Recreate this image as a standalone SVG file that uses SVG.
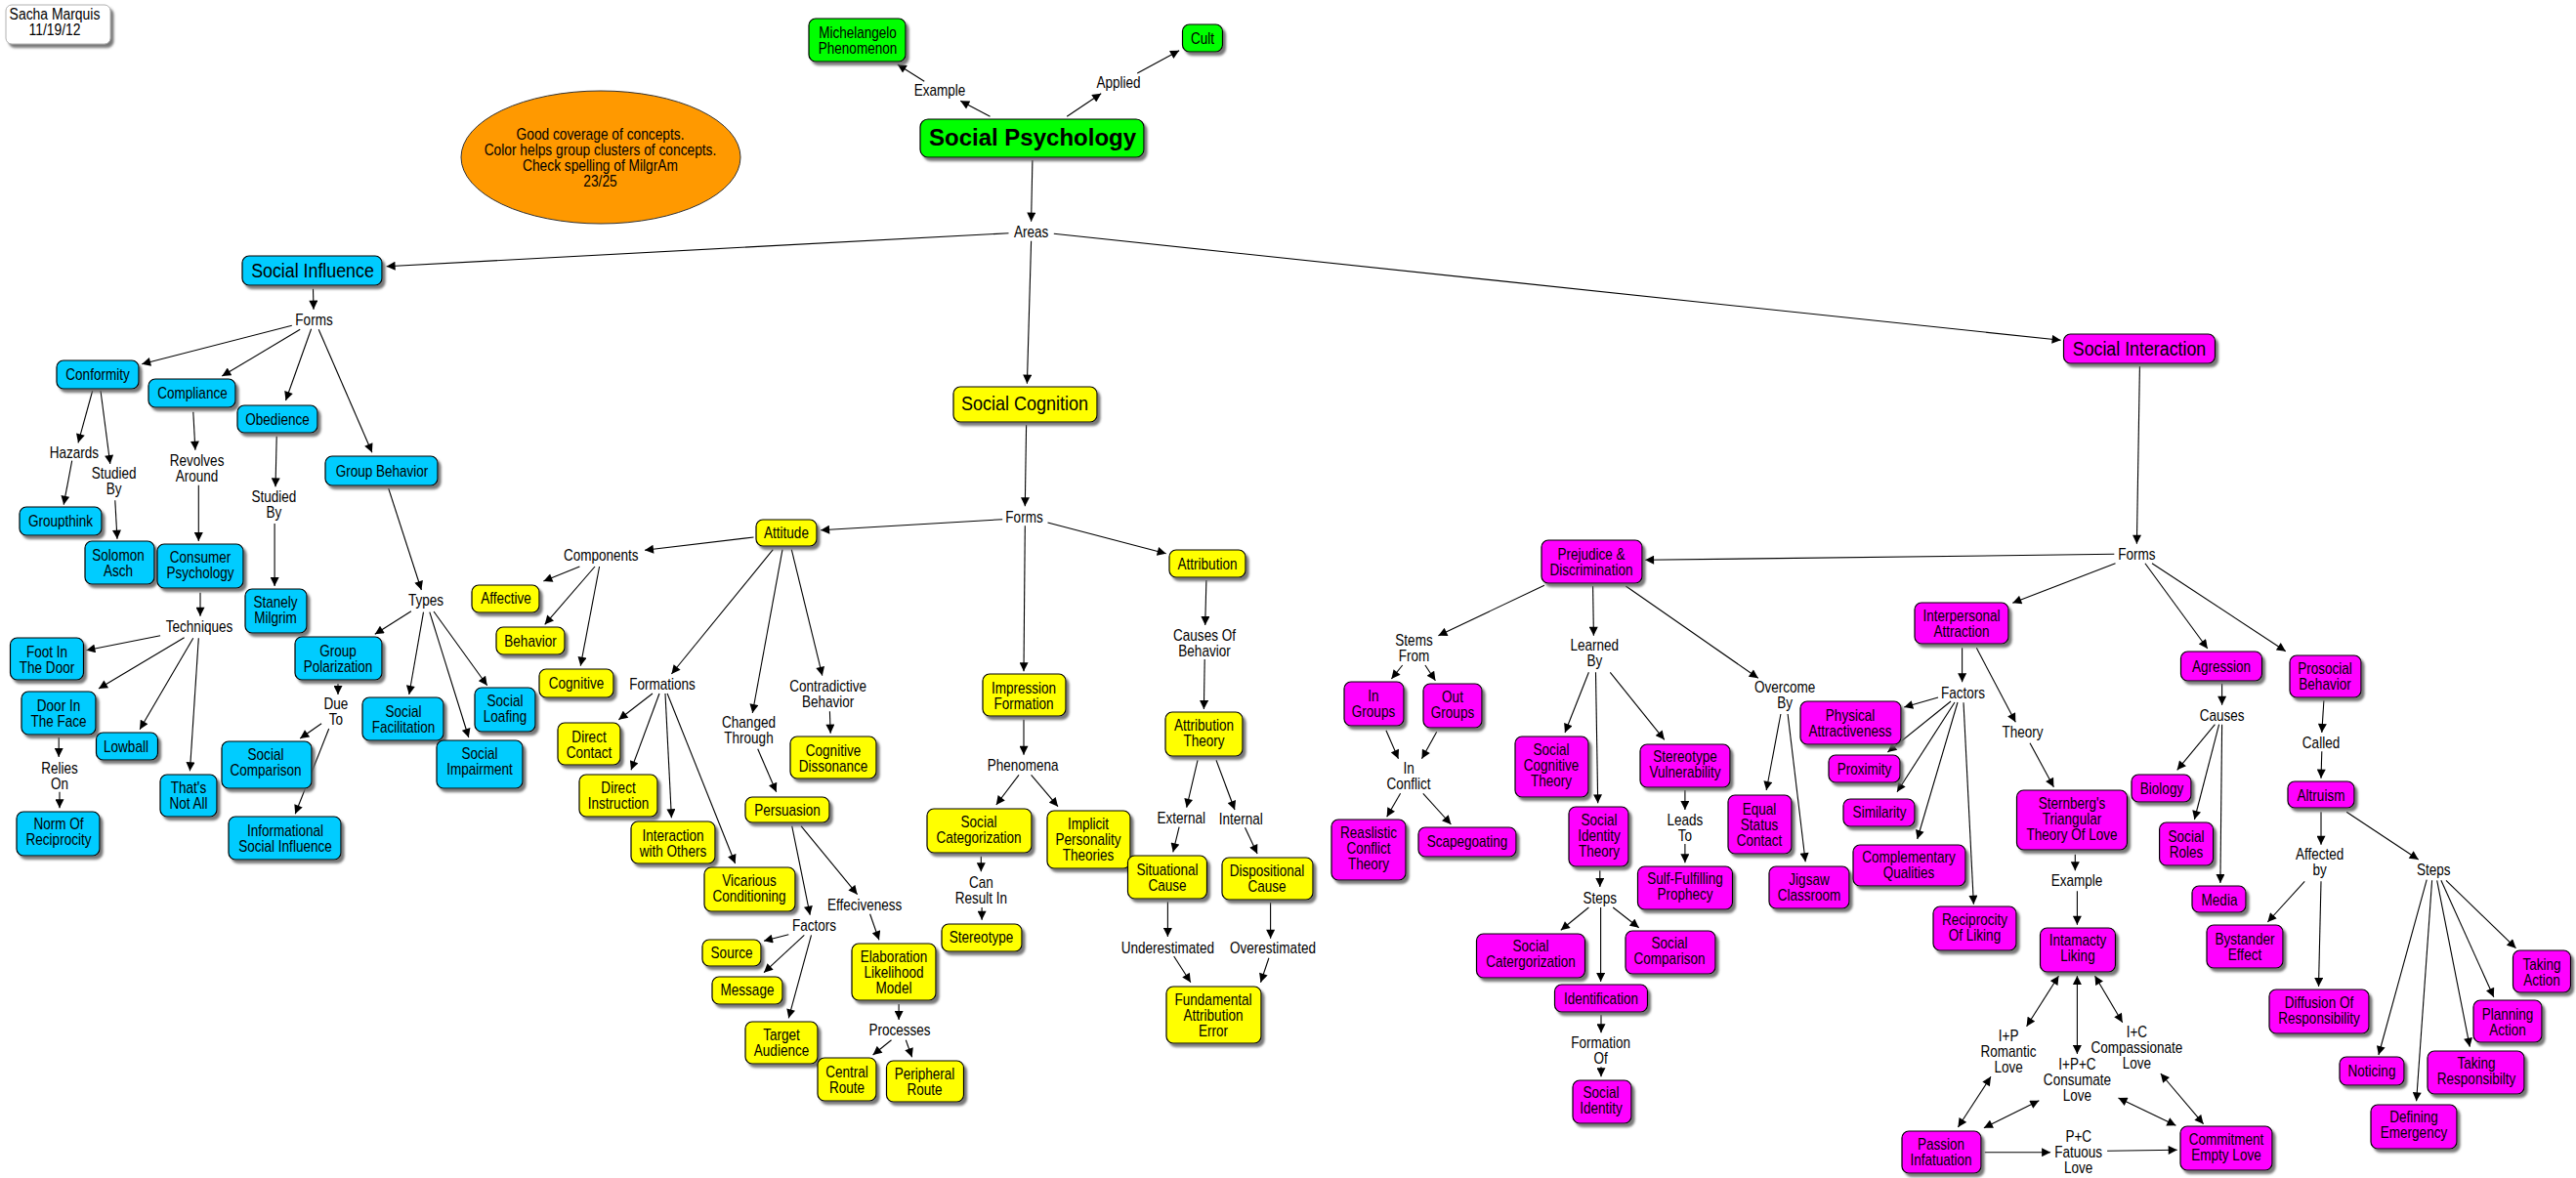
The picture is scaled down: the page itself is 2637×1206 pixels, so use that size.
<svg xmlns="http://www.w3.org/2000/svg" width="2637" height="1206" viewBox="0 0 2637 1206">
<defs>
<marker id="ah" viewBox="0 0 10 10" refX="10" refY="5" markerWidth="10" markerHeight="9" markerUnits="userSpaceOnUse" orient="auto-start-reverse"><path d="M0,0 L10,5 L0,10 z" fill="#000"/></marker>
<filter id="sh" x="-10%" y="-10%" width="130%" height="140%"><feDropShadow dx="3" dy="3.5" stdDeviation="0.8" flood-color="#6a6a6a" flood-opacity="0.9"/></filter>
<style>
text{font-family:"Liberation Sans",Arial,sans-serif;font-size:16px;fill:#000;text-anchor:middle}
.big{font-size:20px}
.title{font-size:24px;font-weight:bold}
.n rect{stroke:#000;stroke-width:1.2;filter:url(#sh)}
.b rect{fill:#00CCFF}
.y rect{fill:#FFFF00}
.g rect{fill:#00FF00}
.m rect{fill:#FF00FF}
#connectors line{stroke:#000;stroke-width:1.1;marker-end:url(#ah)}
#connectors line.d{marker-start:url(#ah)}
</style>
</defs>
<rect width="2637" height="1206" fill="#fff"/>

<g id="author-note"><rect x="6" y="5" width="107" height="40" rx="6" fill="#fff" stroke="#b0b0b0" stroke-width="1" filter="url(#sh)"/><text transform="translate(56 22.8) scale(.87 1)"><tspan x="0" y="-2.8">Sacha Marquis</tspan><tspan x="0" y="13">11/19/12</tspan></text></g>

<g id="grade-note"><ellipse cx="615" cy="161" rx="143" ry="68" fill="#FF9900" stroke="#333" stroke-width="1"/><text transform="translate(614.5 161.8) scale(.86 1)"><tspan x="0" y="-19">Good coverage of concepts.</tspan><tspan x="0" y="-3">Color helps group clusters of concepts.</tspan><tspan x="0" y="13">Check spelling of MilgrAm</tspan><tspan x="0" y="29">23/25</tspan></text></g>

<g id="connectors">
<line x1="1013.5" y1="119.3" x2="983.2" y2="103.3"/>
<line x1="946.2" y1="83.3" x2="918.8" y2="66"/>
<line x1="1092.2" y1="119.3" x2="1127.2" y2="95.7"/>
<line x1="1164.2" y1="75" x2="1207.1" y2="51.7"/>
<line x1="1056.9" y1="164" x2="1055.6" y2="226.7"/>
<line x1="1032.5" y1="238.7" x2="395.6" y2="272.7"/>
<line x1="1055.6" y1="246.7" x2="1051.4" y2="392.7"/>
<line x1="1078.8" y1="239.3" x2="2109.6" y2="348.3"/>
<line x1="320.5" y1="295.7" x2="321" y2="316.7"/>
<line x1="298.8" y1="333.3" x2="145.2" y2="372.7"/>
<line x1="307.2" y1="337.3" x2="227.3" y2="385"/>
<line x1="318.6" y1="336.7" x2="292.5" y2="410"/>
<line x1="326.2" y1="337.3" x2="380.9" y2="463.3"/>
<line x1="94.7" y1="400" x2="80" y2="453.3"/>
<line x1="73.7" y1="471.7" x2="65.2" y2="516.7"/>
<line x1="103" y1="400" x2="112.8" y2="475"/>
<line x1="117.8" y1="512.3" x2="120" y2="551.7"/>
<line x1="197.8" y1="421.7" x2="199.9" y2="460.7"/>
<line x1="203.3" y1="496.7" x2="203.3" y2="554"/>
<line x1="205" y1="606.7" x2="205" y2="630.7"/>
<line x1="164.1" y1="650.7" x2="88.4" y2="665.7"/>
<line x1="188.6" y1="652.7" x2="101" y2="705"/>
<line x1="197.8" y1="653.3" x2="143.1" y2="746.7"/>
<line x1="203.3" y1="653.3" x2="194.4" y2="789.3"/>
<line x1="60.2" y1="755" x2="60.2" y2="775"/>
<line x1="61" y1="810.7" x2="61" y2="827.3"/>
<line x1="283.2" y1="446.7" x2="282" y2="498.3"/>
<line x1="281.1" y1="536" x2="281.1" y2="600"/>
<line x1="397.7" y1="500" x2="431.4" y2="604"/>
<line x1="420.9" y1="625.7" x2="383.8" y2="649.3"/>
<line x1="433.5" y1="626.7" x2="418.8" y2="711"/>
<line x1="439.8" y1="626.7" x2="479.8" y2="755"/>
<line x1="444" y1="626" x2="498.7" y2="701.7"/>
<line x1="346" y1="700" x2="346" y2="711"/>
<line x1="329.1" y1="740.7" x2="307.2" y2="756"/>
<line x1="336.7" y1="746" x2="302.2" y2="833.3"/>
<line x1="1050.6" y1="435" x2="1049.3" y2="518.3"/>
<line x1="1026.2" y1="531.7" x2="840.1" y2="542.7"/>
<line x1="1072.5" y1="535" x2="1193.7" y2="566.7"/>
<line x1="1049.3" y1="538.3" x2="1048" y2="687.3"/>
<line x1="771.5" y1="550" x2="660" y2="563.3"/>
<line x1="593.4" y1="580" x2="556.4" y2="595"/>
<line x1="609" y1="580" x2="557.7" y2="639.3"/>
<line x1="613.6" y1="580" x2="594.3" y2="681.7"/>
<line x1="791.3" y1="562.7" x2="687.4" y2="690"/>
<line x1="801" y1="562.7" x2="770.3" y2="730"/>
<line x1="810.3" y1="562.7" x2="841.8" y2="691.7"/>
<line x1="668" y1="710" x2="633.4" y2="736.7"/>
<line x1="675" y1="710" x2="646" y2="788.3"/>
<line x1="681" y1="710" x2="687.4" y2="837.3"/>
<line x1="683.1" y1="710" x2="752.6" y2="884"/>
<line x1="775.7" y1="766.7" x2="794.7" y2="810.7"/>
<line x1="849.4" y1="728.3" x2="850.2" y2="750.7"/>
<line x1="810.7" y1="845.7" x2="829.2" y2="936.7"/>
<line x1="820" y1="845.7" x2="877.6" y2="915.7"/>
<line x1="890.6" y1="935.7" x2="899.9" y2="962.3"/>
<line x1="807.3" y1="956.7" x2="782" y2="963.3"/>
<line x1="823.3" y1="957.3" x2="782" y2="995.7"/>
<line x1="830.5" y1="957.3" x2="807.3" y2="1042.3"/>
<line x1="920.1" y1="1028" x2="920.1" y2="1044"/>
<line x1="912.5" y1="1064.7" x2="893.6" y2="1080"/>
<line x1="927.3" y1="1064.7" x2="933.6" y2="1082.3"/>
<line x1="1048" y1="736.7" x2="1048" y2="772.7"/>
<line x1="1043" y1="793.3" x2="1019.8" y2="824"/>
<line x1="1055.6" y1="793.3" x2="1083" y2="825.7"/>
<line x1="1004.3" y1="876.7" x2="1004.3" y2="892.3"/>
<line x1="1005.1" y1="929" x2="1005.1" y2="941.7"/>
<line x1="1234.9" y1="594" x2="1233.7" y2="640"/>
<line x1="1233.2" y1="675" x2="1232.4" y2="726"/>
<line x1="1226" y1="778.3" x2="1214.7" y2="826.7"/>
<line x1="1245" y1="778.3" x2="1264" y2="829"/>
<line x1="1207.1" y1="846.7" x2="1200.8" y2="872.3"/>
<line x1="1274.5" y1="847.3" x2="1287.1" y2="874"/>
<line x1="1195.4" y1="923.3" x2="1195.4" y2="959"/>
<line x1="1300.6" y1="924" x2="1300.6" y2="960.7"/>
<line x1="1201.7" y1="979" x2="1218.9" y2="1005.7"/>
<line x1="1298.9" y1="980.7" x2="1290.5" y2="1005.7"/>
<line x1="2190.4" y1="375" x2="2187.4" y2="556.7"/>
<line x1="2164.3" y1="567.3" x2="1684.1" y2="573.3"/>
<line x1="2165.5" y1="576.7" x2="2060.3" y2="617.3"/>
<line x1="2195.9" y1="576.7" x2="2259.8" y2="664"/>
<line x1="2203" y1="576.7" x2="2339.8" y2="666.7"/>
<line x1="1580.9" y1="599.3" x2="1472.4" y2="650.7"/>
<line x1="1630.6" y1="600" x2="1631.4" y2="650.7"/>
<line x1="1664.3" y1="600" x2="1799.8" y2="694.3"/>
<line x1="1435.7" y1="681" x2="1424.4" y2="695"/>
<line x1="1458.9" y1="681" x2="1469.4" y2="696.7"/>
<line x1="1418.9" y1="747.7" x2="1431.5" y2="776.7"/>
<line x1="1470.7" y1="749.3" x2="1455.5" y2="776.7"/>
<line x1="1433.6" y1="812.3" x2="1419.7" y2="836.3"/>
<line x1="1456.8" y1="812.3" x2="1485.4" y2="844"/>
<line x1="1626.4" y1="688.3" x2="1602" y2="750"/>
<line x1="1633.5" y1="688.3" x2="1635.7" y2="822.3"/>
<line x1="1648.3" y1="688.3" x2="1703.8" y2="757.3"/>
<line x1="1724.9" y1="809" x2="1724.9" y2="829"/>
<line x1="1724.9" y1="864" x2="1724.9" y2="883.3"/>
<line x1="1637.8" y1="891.3" x2="1637.8" y2="908"/>
<line x1="1626.4" y1="929" x2="1597.8" y2="952.3"/>
<line x1="1638.6" y1="929" x2="1638.6" y2="1005"/>
<line x1="1651.2" y1="929" x2="1677.7" y2="949.7"/>
<line x1="1639" y1="1039" x2="1639" y2="1057.3"/>
<line x1="1639" y1="1092.3" x2="1639" y2="1102.3"/>
<line x1="1822.9" y1="731" x2="1808.2" y2="809"/>
<line x1="1830.1" y1="731" x2="1848.2" y2="882.3"/>
<line x1="2008.6" y1="663.3" x2="2008.6" y2="698.3"/>
<line x1="1984" y1="714" x2="1949.2" y2="724"/>
<line x1="1997" y1="718" x2="1932.4" y2="770"/>
<line x1="2001" y1="719" x2="1942" y2="810.7"/>
<line x1="2004" y1="719" x2="1962.7" y2="859"/>
<line x1="2010" y1="719.3" x2="2020.4" y2="925.7"/>
<line x1="2023.3" y1="663.3" x2="2063.3" y2="739.3"/>
<line x1="2078" y1="760.7" x2="2102.4" y2="805.7"/>
<line x1="2124.3" y1="874.7" x2="2124.3" y2="891.3"/>
<line x1="2126.4" y1="912.3" x2="2126.4" y2="946.7"/>
<line class="d" x1="2107.5" y1="999" x2="2074.6" y2="1050.7"/>
<line class="d" x1="2126.4" y1="999" x2="2126.4" y2="1079"/>
<line class="d" x1="2144.5" y1="999" x2="2172.7" y2="1046.7"/>
<line class="d" x1="2038" y1="1102.3" x2="2004.4" y2="1154"/>
<line class="d" x1="2087.3" y1="1126.7" x2="2030.9" y2="1154.7"/>
<line class="d" x1="2168.5" y1="1124" x2="2227.4" y2="1152.3"/>
<line class="d" x1="2211.8" y1="1099" x2="2255.6" y2="1150.7"/>
<line x1="2031.7" y1="1179.7" x2="2099.1" y2="1179.7"/>
<line x1="2157.1" y1="1178.3" x2="2228.7" y2="1177.3"/>
<line x1="2274.6" y1="700" x2="2274.6" y2="721.7"/>
<line x1="2267.4" y1="741.7" x2="2228.7" y2="788.3"/>
<line x1="2271.6" y1="741.7" x2="2246.4" y2="839"/>
<line x1="2274.6" y1="741.7" x2="2272.9" y2="904"/>
<line x1="2378.9" y1="717.3" x2="2376.8" y2="750"/>
<line x1="2376.8" y1="769.3" x2="2376" y2="796.7"/>
<line x1="2376" y1="831.3" x2="2376" y2="864.7"/>
<line x1="2359.2" y1="902.3" x2="2321.3" y2="944"/>
<line x1="2376" y1="902.3" x2="2373.5" y2="1010"/>
<line x1="2402.1" y1="831.3" x2="2475.7" y2="880"/>
<line x1="2484.2" y1="900.7" x2="2434.9" y2="1080"/>
<line x1="2489.6" y1="901.3" x2="2473.6" y2="1127.3"/>
<line x1="2494.7" y1="901.3" x2="2528.3" y2="1071.7"/>
<line x1="2498.9" y1="901.3" x2="2552.8" y2="1020.7"/>
<line x1="2504" y1="901.3" x2="2575.5" y2="970.7"/>
</g>

<g id="linking-phrases">
<text transform="translate(962 92.3) scale(.845 1)" y="5.5">Example</text>
<text transform="translate(1145 84.3) scale(.845 1)" y="5.5">Applied</text>
<text transform="translate(1055.6 237.3) scale(.845 1)" y="5.5">Areas</text>
<text transform="translate(321.5 327.3) scale(.845 1)" y="5.5">Forms</text>
<text transform="translate(75.8 463.3) scale(.845 1)" y="5.5">Hazards</text>
<text transform="translate(116.6 492.2) scale(.845 1)"><tspan x="0" y="-2.5">Studied</tspan><tspan x="0" y="13.5">By</tspan></text>
<text transform="translate(201.6 479.5) scale(.845 1)"><tspan x="0" y="-2.5">Revolves</tspan><tspan x="0" y="13.5">Around</tspan></text>
<text transform="translate(280.3 516.7) scale(.845 1)"><tspan x="0" y="-2.5">Studied</tspan><tspan x="0" y="13.5">By</tspan></text>
<text transform="translate(204 641) scale(.845 1)" y="5.5">Techniques</text>
<text transform="translate(61 794) scale(.845 1)"><tspan x="0" y="-2.5">Relies</tspan><tspan x="0" y="13.5">On</tspan></text>
<text transform="translate(436 614.3) scale(.845 1)" y="5.5">Types</text>
<text transform="translate(344 728.7) scale(.845 1)"><tspan x="0" y="-2.5">Due</tspan><tspan x="0" y="13.5">To</tspan></text>
<text transform="translate(615.3 568.7) scale(.845 1)" y="5.5">Components</text>
<text transform="translate(678 700) scale(.845 1)" y="5.5">Formations</text>
<text transform="translate(1048.5 529.3) scale(.845 1)" y="5.5">Forms</text>
<text transform="translate(766.5 747.3) scale(.845 1)"><tspan x="0" y="-2.5">Changed</tspan><tspan x="0" y="13.5">Through</tspan></text>
<text transform="translate(847.7 710.3) scale(.845 1)"><tspan x="0" y="-2.5">Contradictive</tspan><tspan x="0" y="13.5">Behavior</tspan></text>
<text transform="translate(1233 658) scale(.845 1)"><tspan x="0" y="-2.5">Causes Of</tspan><tspan x="0" y="13.5">Behavior</tspan></text>
<text transform="translate(1047.2 783.3) scale(.845 1)" y="5.5">Phenomena</text>
<text transform="translate(833.4 947.3) scale(.845 1)" y="5.5">Factors</text>
<text transform="translate(885.2 926.7) scale(.845 1)" y="5.5">Effeciveness</text>
<text transform="translate(921 1054.7) scale(.845 1)" y="5.5">Processes</text>
<text transform="translate(1004.3 911.5) scale(.845 1)"><tspan x="0" y="-2.5">Can</tspan><tspan x="0" y="13.5">Result In</tspan></text>
<text transform="translate(1209.2 837.3) scale(.845 1)" y="5.5">External</text>
<text transform="translate(1270.3 838.3) scale(.845 1)" y="5.5">Internal</text>
<text transform="translate(1195.4 970) scale(.845 1)" y="5.5">Underestimated</text>
<text transform="translate(1303 970.7) scale(.845 1)" y="5.5">Overestimated</text>
<text transform="translate(2187.4 567.3) scale(.845 1)" y="5.5">Forms</text>
<text transform="translate(1447.5 663.7) scale(.845 1)"><tspan x="0" y="-2.5">Stems</tspan><tspan x="0" y="13.5">From</tspan></text>
<text transform="translate(1632.3 668.5) scale(.845 1)"><tspan x="0" y="-2.5">Learned</tspan><tspan x="0" y="13.5">By</tspan></text>
<text transform="translate(1827.2 711.7) scale(.845 1)"><tspan x="0" y="-2.5">Overcome</tspan><tspan x="0" y="13.5">By</tspan></text>
<text transform="translate(1442.1 794.7) scale(.845 1)"><tspan x="0" y="-2.5">In</tspan><tspan x="0" y="13.5">Conflict</tspan></text>
<text transform="translate(1637.8 919) scale(.845 1)" y="5.5">Steps</text>
<text transform="translate(1724.9 847) scale(.845 1)"><tspan x="0" y="-2.5">Leads</tspan><tspan x="0" y="13.5">To</tspan></text>
<text transform="translate(1638.6 1075.3) scale(.845 1)"><tspan x="0" y="-2.5">Formation</tspan><tspan x="0" y="13.5">Of</tspan></text>
<text transform="translate(2009.4 709.3) scale(.845 1)" y="5.5">Factors</text>
<text transform="translate(2070.4 749.3) scale(.845 1)" y="5.5">Theory</text>
<text transform="translate(2274.6 732.7) scale(.845 1)" y="5.5">Causes</text>
<text transform="translate(2376 760.7) scale(.845 1)" y="5.5">Called</text>
<text transform="translate(2374.7 882.7) scale(.845 1)"><tspan x="0" y="-2.5">Affected</tspan><tspan x="0" y="13.5">by</tspan></text>
<text transform="translate(2491.3 890.7) scale(.845 1)" y="5.5">Steps</text>
<text transform="translate(2126 901.3) scale(.845 1)" y="5.5">Example</text>
<text transform="translate(2056.1 1076.5) scale(.845 1)"><tspan x="0" y="-10.5">I+P</tspan><tspan x="0" y="5.5">Romantic</tspan><tspan x="0" y="21.5">Love</tspan></text>
<text transform="translate(2126.4 1105.7) scale(.845 1)"><tspan x="0" y="-10.5">I+P+C</tspan><tspan x="0" y="5.5">Consumate</tspan><tspan x="0" y="21.5">Love</tspan></text>
<text transform="translate(2187.4 1072.5) scale(.845 1)"><tspan x="0" y="-10.5">I+C</tspan><tspan x="0" y="5.5">Compassionate</tspan><tspan x="0" y="21.5">Love</tspan></text>
<text transform="translate(2127.7 1179.6) scale(.845 1)"><tspan x="0" y="-10.5">P+C</tspan><tspan x="0" y="5.5">Fatuous</tspan><tspan x="0" y="21.5">Love</tspan></text>
</g>

<g id="social-psychology" class="n g"><rect x="942" y="122" width="229" height="39" rx="8"/><text class="title" transform="translate(1057 140)" y="8.5">Social Psychology</text></g>
<g id="michelangelo-phenomenon" class="n g"><rect x="828" y="19" width="99" height="44" rx="7"/><text transform="translate(878 41.3) scale(.845 1)"><tspan x="0" y="-2.5">Michelangelo</tspan><tspan x="0" y="13.5">Phenomenon</tspan></text></g>
<g id="cult" class="n g"><rect x="1210.5" y="25" width="41" height="28" rx="7"/><text transform="translate(1231 39.3) scale(.845 1)" y="5.5">Cult</text></g>

<g id="social-influence" class="n b"><rect x="248" y="262" width="143" height="30" rx="7"/><text class="big" transform="translate(320 277) scale(.89 1)" y="7">Social Influence</text></g>
<g id="conformity" class="n b"><rect x="58" y="369" width="84" height="29" rx="7"/><text transform="translate(100 383.5) scale(.845 1)" y="5.5">Conformity</text></g>
<g id="compliance" class="n b"><rect x="152" y="388" width="89" height="29" rx="7"/><text transform="translate(197 402.5) scale(.845 1)" y="5.5">Compliance</text></g>
<g id="obedience" class="n b"><rect x="243" y="415" width="82" height="28" rx="7"/><text transform="translate(284 429) scale(.845 1)" y="5.5">Obedience</text></g>
<g id="group-behavior" class="n b"><rect x="333" y="467" width="115" height="30" rx="7"/><text transform="translate(391 482) scale(.845 1)" y="5.5">Group Behavior</text></g>
<g id="groupthink" class="n b"><rect x="20" y="519" width="84" height="29" rx="7"/><text transform="translate(62 533.5) scale(.845 1)" y="5.5">Groupthink</text></g>
<g id="solomon-asch" class="n b"><rect x="87" y="554" width="71" height="44" rx="7"/><text transform="translate(121 576.3) scale(.845 1)"><tspan x="0" y="-2.5">Solomon</tspan><tspan x="0" y="13.5">Asch</tspan></text></g>
<g id="consumer-psychology" class="n b"><rect x="161" y="557" width="88" height="45" rx="7"/><text transform="translate(205 578.7) scale(.845 1)"><tspan x="0" y="-2.5">Consumer</tspan><tspan x="0" y="13.5">Psychology</tspan></text></g>
<g id="stanely-milgrim" class="n b"><rect x="251" y="603" width="63" height="45" rx="7"/><text transform="translate(282 624.7) scale(.845 1)"><tspan x="0" y="-2.5">Stanely</tspan><tspan x="0" y="13.5">Milgrim</tspan></text></g>
<g id="foot-in-the-door" class="n b"><rect x="10.5" y="653" width="75" height="43" rx="7"/><text transform="translate(48 675.3) scale(.845 1)"><tspan x="0" y="-2.5">Foot In</tspan><tspan x="0" y="13.5">The Door</tspan></text></g>
<g id="door-in-the-face" class="n b"><rect x="22" y="708" width="76" height="44" rx="7"/><text transform="translate(60 730.3) scale(.845 1)"><tspan x="0" y="-2.5">Door In</tspan><tspan x="0" y="13.5">The Face</tspan></text></g>
<g id="lowball" class="n b"><rect x="98.5" y="750" width="63" height="28" rx="7"/><text transform="translate(129 764) scale(.845 1)" y="5.5">Lowball</text></g>
<g id="thats-not-all" class="n b"><rect x="164" y="793" width="58" height="43" rx="7"/><text transform="translate(193 814) scale(.845 1)"><tspan x="0" y="-2.5">That's</tspan><tspan x="0" y="13.5">Not All</tspan></text></g>
<g id="norm-of-reciprocity" class="n b"><rect x="17" y="831" width="85" height="45" rx="7"/><text transform="translate(60 851.2) scale(.845 1)"><tspan x="0" y="-2.5">Norm Of</tspan><tspan x="0" y="13.5">Reciprocity</tspan></text></g>
<g id="group-polarization" class="n b"><rect x="302" y="652" width="89" height="44" rx="7"/><text transform="translate(346 674.7) scale(.845 1)"><tspan x="0" y="-2.5">Group</tspan><tspan x="0" y="13.5">Polarization</tspan></text></g>
<g id="social-comparison-influence" class="n b"><rect x="227" y="759" width="92" height="48" rx="7"/><text transform="translate(272 780.7) scale(.845 1)"><tspan x="0" y="-2.5">Social</tspan><tspan x="0" y="13.5">Comparison</tspan></text></g>
<g id="informational-social-influence" class="n b"><rect x="234" y="836" width="115" height="44" rx="7"/><text transform="translate(292 858.7) scale(.845 1)"><tspan x="0" y="-2.5">Informational</tspan><tspan x="0" y="13.5">Social Influence</tspan></text></g>
<g id="social-facilitation" class="n b"><rect x="371" y="714" width="83" height="44" rx="7"/><text transform="translate(413 736.3) scale(.845 1)"><tspan x="0" y="-2.5">Social</tspan><tspan x="0" y="13.5">Facilitation</tspan></text></g>
<g id="social-loafing" class="n b"><rect x="486" y="704" width="62" height="45" rx="7"/><text transform="translate(517 725.3) scale(.845 1)"><tspan x="0" y="-2.5">Social</tspan><tspan x="0" y="13.5">Loafing</tspan></text></g>
<g id="social-impairment" class="n b"><rect x="447" y="758" width="88" height="49" rx="7"/><text transform="translate(491 779.7) scale(.845 1)"><tspan x="0" y="-2.5">Social</tspan><tspan x="0" y="13.5">Impairment</tspan></text></g>

<g id="social-cognition" class="n y"><rect x="976" y="396" width="147" height="36" rx="7"/><text class="big" transform="translate(1049 413) scale(.9 1)" y="7">Social Cognition</text></g>
<g id="attitude" class="n y"><rect x="774" y="532" width="62" height="27" rx="7"/><text transform="translate(805 545.5) scale(.845 1)" y="5.5">Attitude</text></g>
<g id="attribution" class="n y"><rect x="1197" y="563" width="78" height="28" rx="7"/><text transform="translate(1236 577) scale(.845 1)" y="5.5">Attribution</text></g>
<g id="impression-formation" class="n y"><rect x="1006" y="690" width="85" height="43" rx="7"/><text transform="translate(1048 712) scale(.845 1)"><tspan x="0" y="-2.5">Impression</tspan><tspan x="0" y="13.5">Formation</tspan></text></g>
<g id="affective" class="n y"><rect x="483" y="599" width="69" height="28" rx="7"/><text transform="translate(518 612.5) scale(.845 1)" y="5.5">Affective</text></g>
<g id="behavior" class="n y"><rect x="508" y="642" width="70" height="28" rx="7"/><text transform="translate(543 656) scale(.845 1)" y="5.5">Behavior</text></g>
<g id="cognitive" class="n y"><rect x="552" y="685" width="76" height="29" rx="7"/><text transform="translate(590 699.3) scale(.845 1)" y="5.5">Cognitive</text></g>
<g id="direct-contact" class="n y"><rect x="571" y="740" width="64" height="43" rx="7"/><text transform="translate(603 762) scale(.845 1)"><tspan x="0" y="-2.5">Direct</tspan><tspan x="0" y="13.5">Contact</tspan></text></g>
<g id="direct-instruction" class="n y"><rect x="593" y="793" width="80" height="43" rx="7"/><text transform="translate(633 814.8) scale(.845 1)"><tspan x="0" y="-2.5">Direct</tspan><tspan x="0" y="13.5">Instruction</tspan></text></g>
<g id="interaction-with-others" class="n y"><rect x="646" y="841" width="86" height="43" rx="7"/><text transform="translate(689 863.7) scale(.845 1)"><tspan x="0" y="-2.5">Interaction</tspan><tspan x="0" y="13.5">with Others</tspan></text></g>
<g id="vicarious-conditioning" class="n y"><rect x="721" y="888" width="93" height="45" rx="7"/><text transform="translate(767 909.3) scale(.845 1)"><tspan x="0" y="-2.5">Vicarious</tspan><tspan x="0" y="13.5">Conditioning</tspan></text></g>
<g id="cognitive-dissonance" class="n y"><rect x="809" y="754" width="88" height="43" rx="7"/><text transform="translate(853 776.3) scale(.845 1)"><tspan x="0" y="-2.5">Cognitive</tspan><tspan x="0" y="13.5">Dissonance</tspan></text></g>
<g id="persuasion" class="n y"><rect x="763" y="816" width="86" height="26" rx="7"/><text transform="translate(806 829.3) scale(.845 1)" y="5.5">Persuasion</text></g>
<g id="source" class="n y"><rect x="719" y="962" width="60" height="27" rx="7"/><text transform="translate(749 975.7) scale(.845 1)" y="5.5">Source</text></g>
<g id="message" class="n y"><rect x="729" y="1000" width="72" height="28" rx="7"/><text transform="translate(765 1013.3) scale(.845 1)" y="5.5">Message</text></g>
<g id="target-audience" class="n y"><rect x="763" y="1046" width="74" height="43" rx="7"/><text transform="translate(800 1067.7) scale(.845 1)"><tspan x="0" y="-2.5">Target</tspan><tspan x="0" y="13.5">Audience</tspan></text></g>
<g id="elaboration-likelihood-model" class="n y"><rect x="872" y="966" width="86" height="58" rx="7"/><text transform="translate(915 995.5) scale(.845 1)"><tspan x="0" y="-10.5">Elaboration</tspan><tspan x="0" y="5.5">Likelihood</tspan><tspan x="0" y="21.5">Model</tspan></text></g>
<g id="central-route" class="n y"><rect x="837" y="1083" width="60" height="44" rx="7"/><text transform="translate(867 1105.3) scale(.845 1)"><tspan x="0" y="-2.5">Central</tspan><tspan x="0" y="13.5">Route</tspan></text></g>
<g id="peripheral-route" class="n y"><rect x="907.5" y="1086" width="79" height="42" rx="7"/><text transform="translate(946.5 1107.7) scale(.845 1)"><tspan x="0" y="-2.5">Peripheral</tspan><tspan x="0" y="13.5">Route</tspan></text></g>
<g id="social-categorization" class="n y"><rect x="949" y="828" width="107" height="45" rx="7"/><text transform="translate(1002 849.7) scale(.845 1)"><tspan x="0" y="-2.5">Social</tspan><tspan x="0" y="13.5">Categorization</tspan></text></g>
<g id="stereotype" class="n y"><rect x="964" y="946" width="82" height="28" rx="7"/><text transform="translate(1004.5 959.7) scale(.845 1)" y="5.5">Stereotype</text></g>
<g id="implicit-personality-theories" class="n y"><rect x="1072" y="830" width="85" height="59" rx="7"/><text transform="translate(1114 859.3) scale(.845 1)"><tspan x="0" y="-10.5">Implicit</tspan><tspan x="0" y="5.5">Personality</tspan><tspan x="0" y="21.5">Theories</tspan></text></g>
<g id="attribution-theory" class="n y"><rect x="1193" y="729" width="79" height="45" rx="7"/><text transform="translate(1232.5 750.3) scale(.845 1)"><tspan x="0" y="-2.5">Attribution</tspan><tspan x="0" y="13.5">Theory</tspan></text></g>
<g id="situational-cause" class="n y"><rect x="1154.5" y="876" width="81" height="44" rx="7"/><text transform="translate(1195 898.7) scale(.845 1)"><tspan x="0" y="-2.5">Situational</tspan><tspan x="0" y="13.5">Cause</tspan></text></g>
<g id="dispositional-cause" class="n y"><rect x="1251" y="878" width="93" height="43" rx="7"/><text transform="translate(1297 899.3) scale(.845 1)"><tspan x="0" y="-2.5">Dispositional</tspan><tspan x="0" y="13.5">Cause</tspan></text></g>
<g id="fundamental-attribution-error" class="n y"><rect x="1194" y="1010" width="97" height="58" rx="7"/><text transform="translate(1242 1039.2) scale(.845 1)"><tspan x="0" y="-10.5">Fundamental</tspan><tspan x="0" y="5.5">Attribution</tspan><tspan x="0" y="21.5">Error</tspan></text></g>

<g id="social-interaction" class="n m"><rect x="2112.5" y="342" width="155" height="30" rx="7"/><text class="big" transform="translate(2190 357) scale(.89 1)" y="7">Social Interaction</text></g>
<g id="prejudice-discrimination" class="n m"><rect x="1578" y="553" width="103" height="44" rx="7"/><text transform="translate(1629 575.5) scale(.845 1)"><tspan x="0" y="-2.5">Prejudice &amp;</tspan><tspan x="0" y="13.5">Discrimination</tspan></text></g>
<g id="interpersonal-attraction" class="n m"><rect x="1960" y="617" width="96" height="42" rx="7"/><text transform="translate(2008 638.7) scale(.845 1)"><tspan x="0" y="-2.5">Interpersonal</tspan><tspan x="0" y="13.5">Attraction</tspan></text></g>
<g id="agression" class="n m"><rect x="2232.5" y="667" width="83" height="30" rx="7"/><text transform="translate(2274 682) scale(.845 1)" y="5.5">Agression</text></g>
<g id="prosocial-behavior" class="n m"><rect x="2344" y="671" width="73" height="43" rx="7"/><text transform="translate(2380 692) scale(.845 1)"><tspan x="0" y="-2.5">Prosocial</tspan><tspan x="0" y="13.5">Behavior</tspan></text></g>
<g id="in-groups" class="n m"><rect x="1376" y="698" width="61" height="45" rx="7"/><text transform="translate(1406 720.3) scale(.845 1)"><tspan x="0" y="-2.5">In</tspan><tspan x="0" y="13.5">Groups</tspan></text></g>
<g id="out-groups" class="n m"><rect x="1457" y="700" width="60" height="45" rx="7"/><text transform="translate(1487 721.7) scale(.845 1)"><tspan x="0" y="-2.5">Out</tspan><tspan x="0" y="13.5">Groups</tspan></text></g>
<g id="reaslistic-conflict-theory" class="n m"><rect x="1363" y="839" width="76" height="62" rx="7"/><text transform="translate(1401 868.3) scale(.845 1)"><tspan x="0" y="-10.5">Reaslistic</tspan><tspan x="0" y="5.5">Conflict</tspan><tspan x="0" y="21.5">Theory</tspan></text></g>
<g id="scapegoating" class="n m"><rect x="1452" y="847" width="100" height="30" rx="7"/><text transform="translate(1502 861) scale(.845 1)" y="5.5">Scapegoating</text></g>
<g id="social-cognitive-theory" class="n m"><rect x="1551" y="754" width="75" height="62" rx="7"/><text transform="translate(1588 783.3) scale(.845 1)"><tspan x="0" y="-10.5">Social</tspan><tspan x="0" y="5.5">Cognitive</tspan><tspan x="0" y="21.5">Theory</tspan></text></g>
<g id="social-identity-theory" class="n m"><rect x="1606" y="826" width="61" height="61" rx="7"/><text transform="translate(1637 855.7) scale(.845 1)"><tspan x="0" y="-10.5">Social</tspan><tspan x="0" y="5.5">Identity</tspan><tspan x="0" y="21.5">Theory</tspan></text></g>
<g id="stereotype-vulnerability" class="n m"><rect x="1679" y="762" width="92" height="44" rx="7"/><text transform="translate(1725 782.5) scale(.845 1)"><tspan x="0" y="-2.5">Stereotype</tspan><tspan x="0" y="13.5">Vulnerability</tspan></text></g>
<g id="sulf-fulfilling-prophecy" class="n m"><rect x="1676.5" y="887" width="97" height="44" rx="7"/><text transform="translate(1725 907.7) scale(.845 1)"><tspan x="0" y="-2.5">Sulf-Fulfilling</tspan><tspan x="0" y="13.5">Prophecy</tspan></text></g>
<g id="social-catergorization" class="n m"><rect x="1511.5" y="956" width="111" height="45" rx="7"/><text transform="translate(1567 976.5) scale(.845 1)"><tspan x="0" y="-2.5">Social</tspan><tspan x="0" y="13.5">Catergorization</tspan></text></g>
<g id="social-comparison-identity" class="n m"><rect x="1664" y="953" width="92" height="44" rx="7"/><text transform="translate(1709 973.7) scale(.845 1)"><tspan x="0" y="-2.5">Social</tspan><tspan x="0" y="13.5">Comparison</tspan></text></g>
<g id="identification" class="n m"><rect x="1591.5" y="1008" width="95" height="28" rx="7"/><text transform="translate(1639 1022.3) scale(.845 1)" y="5.5">Identification</text></g>
<g id="social-identity" class="n m"><rect x="1610" y="1106" width="60" height="44" rx="7"/><text transform="translate(1639 1126.5) scale(.845 1)"><tspan x="0" y="-2.5">Social</tspan><tspan x="0" y="13.5">Identity</tspan></text></g>
<g id="equal-status-contact" class="n m"><rect x="1769" y="814" width="65" height="60" rx="7"/><text transform="translate(1801 844.2) scale(.845 1)"><tspan x="0" y="-10.5">Equal</tspan><tspan x="0" y="5.5">Status</tspan><tspan x="0" y="21.5">Contact</tspan></text></g>
<g id="jigsaw-classroom" class="n m"><rect x="1811" y="887" width="82" height="43" rx="7"/><text transform="translate(1852 908.7) scale(.845 1)"><tspan x="0" y="-2.5">Jigsaw</tspan><tspan x="0" y="13.5">Classroom</tspan></text></g>
<g id="physical-attractiveness" class="n m"><rect x="1843" y="718" width="103" height="44" rx="7"/><text transform="translate(1894 740.3) scale(.845 1)"><tspan x="0" y="-2.5">Physical</tspan><tspan x="0" y="13.5">Attractiveness</tspan></text></g>
<g id="proximity" class="n m"><rect x="1872" y="773" width="73" height="28" rx="7"/><text transform="translate(1908.5 787.3) scale(.845 1)" y="5.5">Proximity</text></g>
<g id="similarity" class="n m"><rect x="1887" y="818" width="73" height="28" rx="7"/><text transform="translate(1924 831.5) scale(.845 1)" y="5.5">Similarity</text></g>
<g id="complementary-qualities" class="n m"><rect x="1897" y="865" width="115" height="42" rx="7"/><text transform="translate(1954 885.3) scale(.845 1)"><tspan x="0" y="-2.5">Complementary</tspan><tspan x="0" y="13.5">Qualities</tspan></text></g>
<g id="reciprocity-of-liking" class="n m"><rect x="1979" y="928" width="85" height="45" rx="7"/><text transform="translate(2021.5 949.3) scale(.845 1)"><tspan x="0" y="-2.5">Reciprocity</tspan><tspan x="0" y="13.5">Of Liking</tspan></text></g>
<g id="sternbergs-triangular-theory" class="n m"><rect x="2064.5" y="809" width="113" height="61" rx="7"/><text transform="translate(2121 838.5) scale(.845 1)"><tspan x="0" y="-10.5">Sternberg's</tspan><tspan x="0" y="5.5">Triangular</tspan><tspan x="0" y="21.5">Theory Of Love</tspan></text></g>
<g id="intamacty-liking" class="n m"><rect x="2088.5" y="950" width="77" height="45" rx="7"/><text transform="translate(2127 970.3) scale(.845 1)"><tspan x="0" y="-2.5">Intamacty</tspan><tspan x="0" y="13.5">Liking</tspan></text></g>
<g id="passion-infatuation" class="n m"><rect x="1947" y="1158" width="81" height="43" rx="7"/><text transform="translate(1987 1179.3) scale(.845 1)"><tspan x="0" y="-2.5">Passion</tspan><tspan x="0" y="13.5">Infatuation</tspan></text></g>
<g id="commitment-empty-love" class="n m"><rect x="2232" y="1153" width="94" height="45" rx="7"/><text transform="translate(2279 1174.5) scale(.845 1)"><tspan x="0" y="-2.5">Commitment</tspan><tspan x="0" y="13.5">Empty Love</tspan></text></g>
<g id="biology" class="n m"><rect x="2182" y="793" width="61" height="28" rx="7"/><text transform="translate(2213 807) scale(.845 1)" y="5.5">Biology</text></g>
<g id="social-roles" class="n m"><rect x="2210.6" y="842" width="55" height="44" rx="7"/><text transform="translate(2238 864.7) scale(.845 1)"><tspan x="0" y="-2.5">Social</tspan><tspan x="0" y="13.5">Roles</tspan></text></g>
<g id="media" class="n m"><rect x="2244" y="907" width="55" height="27" rx="7"/><text transform="translate(2272 921) scale(.845 1)" y="5.5">Media</text></g>
<g id="altruism" class="n m"><rect x="2342" y="800" width="68" height="27" rx="7"/><text transform="translate(2376 814) scale(.845 1)" y="5.5">Altruism</text></g>
<g id="bystander-effect" class="n m"><rect x="2259" y="947" width="78" height="44" rx="7"/><text transform="translate(2298 969.3) scale(.845 1)"><tspan x="0" y="-2.5">Bystander</tspan><tspan x="0" y="13.5">Effect</tspan></text></g>
<g id="diffusion-of-responsibility" class="n m"><rect x="2323" y="1013" width="102" height="45" rx="7"/><text transform="translate(2374 1034.7) scale(.845 1)"><tspan x="0" y="-2.5">Diffusion Of</tspan><tspan x="0" y="13.5">Responsibility</tspan></text></g>
<g id="taking-action" class="n m"><rect x="2572.5" y="973" width="59" height="43" rx="7"/><text transform="translate(2602 995.3) scale(.845 1)"><tspan x="0" y="-2.5">Taking</tspan><tspan x="0" y="13.5">Action</tspan></text></g>
<g id="planning-action" class="n m"><rect x="2532" y="1024" width="70" height="43" rx="7"/><text transform="translate(2567 1046.2) scale(.845 1)"><tspan x="0" y="-2.5">Planning</tspan><tspan x="0" y="13.5">Action</tspan></text></g>
<g id="taking-responsibility" class="n m"><rect x="2485" y="1076" width="99" height="44" rx="7"/><text transform="translate(2535 1096.5) scale(.845 1)"><tspan x="0" y="-2.5">Taking</tspan><tspan x="0" y="13.5">Responsibilty</tspan></text></g>
<g id="noticing" class="n m"><rect x="2395" y="1082" width="66" height="29" rx="7"/><text transform="translate(2428 1096.7) scale(.845 1)" y="5.5">Noticing</text></g>
<g id="defining-emergency" class="n m"><rect x="2427" y="1131" width="88" height="45" rx="7"/><text transform="translate(2471 1151.5) scale(.845 1)"><tspan x="0" y="-2.5">Defining</tspan><tspan x="0" y="13.5">Emergency</tspan></text></g>
</svg>
